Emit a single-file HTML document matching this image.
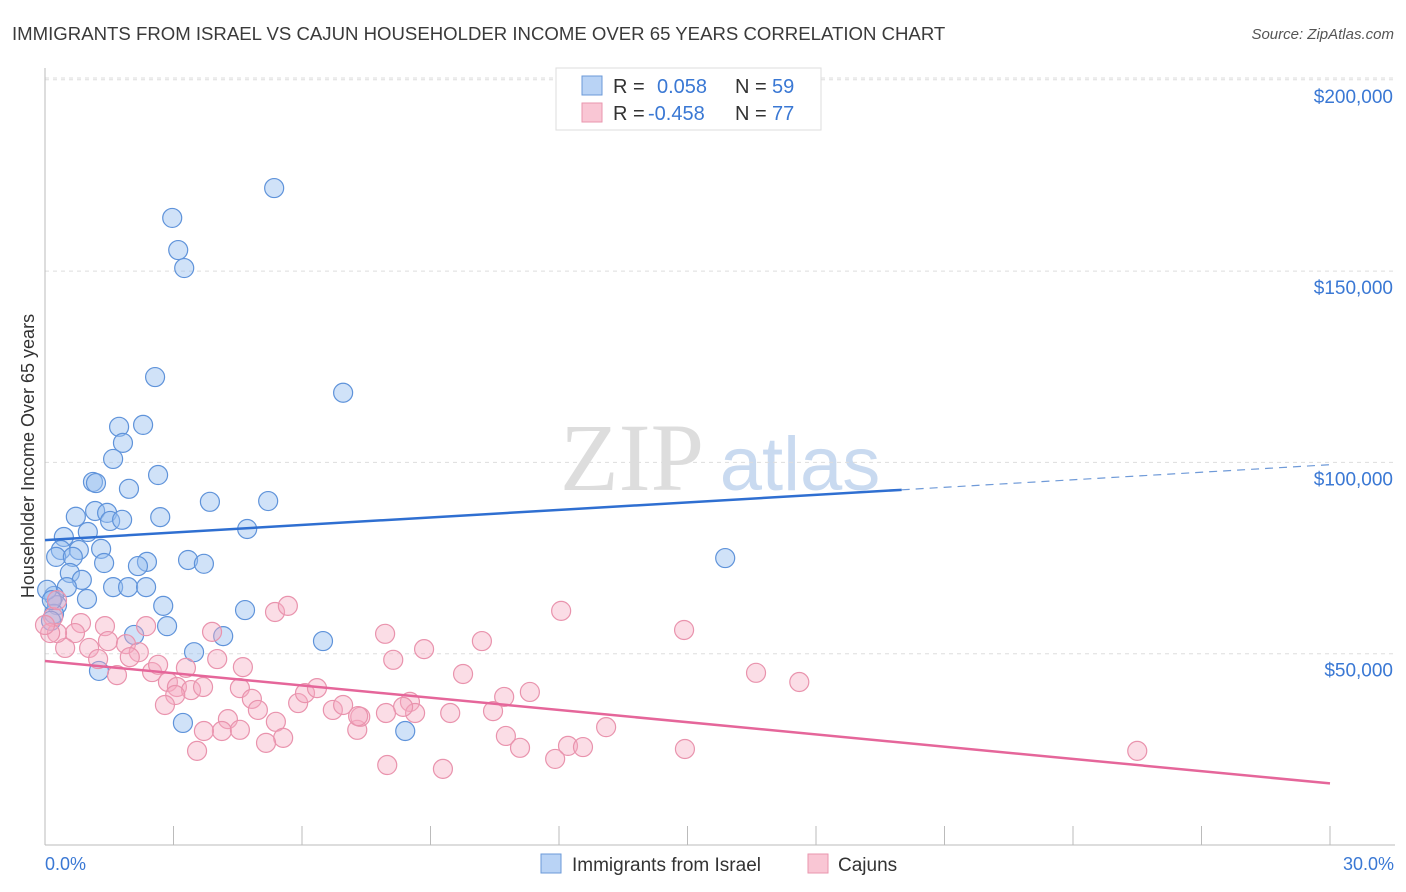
<!DOCTYPE html>
<html><head><meta charset="utf-8"><style>
body{margin:0;background:#fff;font-family:"Liberation Sans",sans-serif}
svg{display:block}
</style></head><body>
<svg id="chart" width="1406" height="892" xmlns="http://www.w3.org/2000/svg" font-family="Liberation Sans, sans-serif">
<text x="12" y="40" font-size="18.6" fill="#3a3a3a">IMMIGRANTS FROM ISRAEL VS CAJUN HOUSEHOLDER INCOME OVER 65 YEARS CORRELATION CHART</text>
<text x="1394" y="39" font-size="15" fill="#555" text-anchor="end" font-style="italic">Source: ZipAtlas.com</text>
<g>
<text x="632" y="490" font-size="96" fill="#ddd" font-family="Liberation Serif, serif" text-anchor="middle">ZIP</text>
<text x="800" y="490" font-size="76" fill="#c9daf0" text-anchor="middle">atlas</text>
</g>
<g id="grid"></g><g id="axes"></g><g id="pts"></g><g id="lines"></g>
<g>
<rect x="556" y="68" width="265" height="62" fill="#fff" stroke="#ddd"/>
<rect x="582" y="76" width="20" height="19" fill="#b9d3f5" stroke="#6b9ad8"/>
<rect x="582" y="103" width="20" height="19" fill="#f9c6d4" stroke="#e996ae"/>
<text x="613" y="93" font-size="20" fill="#333">R = </text><text x="657" y="93" font-size="20" fill="#3a78d4">0.058</text>
<text x="735" y="93" font-size="20" fill="#333">N = </text><text x="772" y="93" font-size="20" fill="#3a78d4">59</text>
<text x="613" y="120" font-size="20" fill="#333">R = </text><text x="648" y="120" font-size="20" fill="#3a78d4">-0.458</text>
<text x="735" y="120" font-size="20" fill="#333">N = </text><text x="772" y="120" font-size="20" fill="#3a78d4">77</text>
</g>
<g>
<rect x="541" y="854" width="20" height="19" fill="#b9d3f5" stroke="#6b9ad8"/>
<text x="572" y="871" font-size="19" fill="#333">Immigrants from Israel</text>
<rect x="808" y="854" width="20" height="19" fill="#f9c6d4" stroke="#e996ae"/>
<text x="838" y="871" font-size="19" fill="#333">Cajuns</text>
</g>
<text transform="translate(34,456) rotate(-90)" font-size="18" fill="#333" text-anchor="middle">Householder Income Over 65 years</text>
<text x="45" y="870" font-size="18" fill="#3a78d4">0.0%</text>
<text x="1394" y="870" font-size="18" fill="#3a78d4" text-anchor="end">30.0%</text>
</svg>
<script>
const yTicks=[50000,100000,150000,200000];
const yTickLabels=["$50,000","$100,000","$150,000","$200,000"];
const xTicks=[0,3,6,9,12,15,18,21,24,27,30];
const israelX=[5.35,2.97,3.11,3.25,2.57,6.96,2.29,1.73,1.82,1.59,2.64,1.12,1.19,1.96,3.85,5.21,0.72,1.17,1.45,1.52,1.80,2.69,4.72,1.00,0.44,0.37,0.79,1.31,0.26,0.65,1.38,2.38,2.17,3.34,3.71,15.88,0.58,0.86,0.51,1.59,1.94,2.36,0.21,0.98,2.76,4.67,0.28,0.21,0.14,2.85,2.08,4.16,6.49,3.48,1.26,3.22,8.41,0.05,0.16];
const israelY=[171.7,163.9,155.5,150.8,122.3,118.2,109.8,109.3,105.1,100.9,96.7,94.9,94.6,93.1,89.7,89.9,85.8,87.3,86.8,84.7,85.0,85.7,82.6,81.8,80.5,77.1,77.1,77.4,75.3,75.3,73.7,74.0,72.9,74.5,73.5,75.0,71.1,69.3,67.4,67.4,67.4,67.4,65.1,64.3,62.5,61.4,62.7,60.4,58.6,57.2,54.9,54.6,53.3,50.4,45.5,31.9,29.8,66.7,64.0];
const cajunX=[5.37,5.67,3.90,4.02,4.62,2.36,1.40,0.84,1.47,0.70,0.47,1.03,1.89,2.19,1.98,1.24,1.68,2.50,2.64,3.29,2.87,3.08,3.41,3.69,4.55,3.04,2.80,4.83,4.97,5.91,6.07,6.35,6.72,6.96,5.39,5.56,5.16,4.27,4.13,3.71,3.55,7.29,7.36,0.19,0.28,0.12,7.94,8.13,8.85,8.52,8.64,8.36,7.96,7.31,9.46,9.76,10.20,10.72,11.32,10.46,10.76,11.09,11.91,12.21,12.56,13.10,12.05,14.92,14.94,16.60,17.61,25.50,7.99,9.29,0.28,0.0,4.55];
const cajunY=[60.9,62.5,55.7,48.6,46.5,57.2,57.2,58.0,53.3,55.4,51.5,51.5,52.5,50.4,49.1,48.6,44.4,45.2,47.1,46.3,42.6,41.3,40.5,41.3,41.0,39.2,36.6,38.2,35.3,37.1,39.7,41.0,35.3,36.6,32.2,28.0,26.7,32.9,29.8,29.8,24.6,30.1,33.5,59.6,55.4,55.4,55.2,48.4,51.2,37.4,34.5,36.1,34.5,33.7,34.5,44.7,53.3,38.7,40.0,35.0,28.5,25.4,22.5,25.9,25.6,30.8,61.2,56.2,25.1,45.0,42.6,24.6,20.9,19.9,64.0,57.5,30.1];
const israelTrend=[79.7,99.4]; const israelSolidEnd=20.0;
const cajunTrend=[48.1,16.1];
const NS="http://www.w3.org/2000/svg";
const X=v=>45+v/30*1285;
const Y=v=>845-v/50000*191.3;
const Yk=v=>Y(v*1000);
function mk(tag,attrs,parent){const e=document.createElementNS(NS,tag);for(const k in attrs)e.setAttribute(k,attrs[k]);parent.appendChild(e);return e;}
const gridG=document.getElementById('grid'),axesG=document.getElementById('axes'),ptsG=document.getElementById('pts'),linesG=document.getElementById('lines');
yTicks.forEach((t,i)=>{
 const l=mk('line',{x1:45,x2:1395,y1:Y(t),y2:Y(t),stroke:'#ddd','stroke-dasharray':'4,4'},gridG);
 
 
 const tx=mk('text',{x:1393,y:Y(t)+23,'font-size':19,fill:'#3a78d4','text-anchor':'end'},axesG);
 tx.textContent=yTickLabels[i];
 
 
});
const topGrid=mk('line',{x1:45,x2:1395,y1:78,y2:78,stroke:'#ddd','stroke-dasharray':'4,4'},gridG);


const ya=mk('line',{x1:45,x2:45,y1:68,y2:845,stroke:'#bbb'},axesG);


const xa=mk('line',{x1:45,x2:1395,y1:845,y2:845,stroke:'#bbb'},axesG);


xTicks.forEach(t=>{
 const l=mk('line',{x1:X(t),x2:X(t),y1:826,y2:845,stroke:'#bbb'},axesG);
 
 
});
israelX.forEach((x,i)=>{
 const c=mk('circle',{cx:X(x),cy:Yk(israelY[i]),r:9.5,fill:'rgba(150,190,240,0.45)',stroke:'#5f93da','stroke-width':1.2},ptsG);
 
 
});
cajunX.forEach((x,i)=>{
 const c=mk('circle',{cx:X(x),cy:Yk(cajunY[i]),r:9.5,fill:'rgba(245,170,192,0.4)',stroke:'#e993ad','stroke-width':1.2},ptsG);
 
 
});
const iy=x=>israelTrend[0]+(israelTrend[1]-israelTrend[0])*x/30;
const l1=mk('line',{x1:X(0),y1:Yk(iy(0)),x2:X(israelSolidEnd),y2:Yk(iy(israelSolidEnd)),stroke:'#2f6fd1','stroke-width':2.5},linesG);


const l2=mk('line',{x1:X(israelSolidEnd),y1:Yk(iy(israelSolidEnd)),x2:X(30),y2:Yk(iy(30)),stroke:'#6f9ad8','stroke-width':1.2,'stroke-dasharray':'8,6'},linesG);


const l3=mk('line',{x1:X(0),y1:Yk(cajunTrend[0]),x2:X(30),y2:Yk(cajunTrend[1]),stroke:'#e5669a','stroke-width':2.5},linesG);


</script>
</body></html>
